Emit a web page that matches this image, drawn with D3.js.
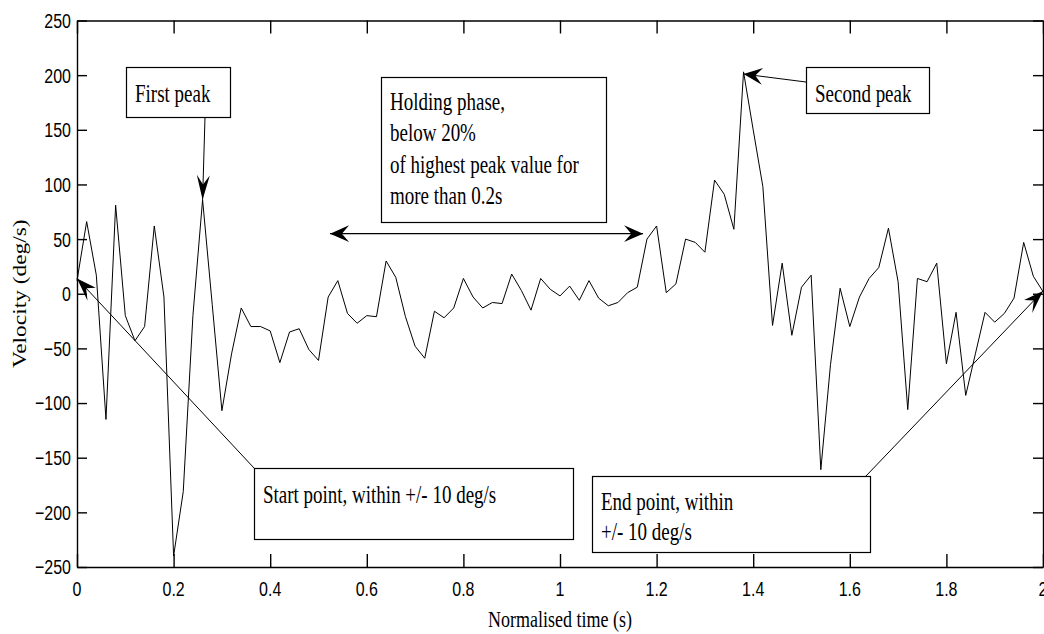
<!DOCTYPE html>
<html>
<head>
<meta charset="utf-8">
<script src="https://cdn.jsdelivr.net/npm/d3@7"></script>
<style>
body { margin: 0; background: #fff; }
svg { display: block; }
.axis path, .axis line { stroke: #000; stroke-width: 1.4; }
.tick-label { font-family: "Liberation Sans", Arial, sans-serif; font-size: 16px; fill: #000; }
.serif { font-family: "Liberation Serif", "Times New Roman", serif; font-size: 19px; fill: #000; }
.note-box { fill: #fff; stroke: #000; stroke-width: 1.2; }
.trace { fill: none; stroke: #000; stroke-width: 1; }
</style>
</head>
<body>
<div id="plot"></div>
<script>
// normalised time (s), one sample every 0.02 s
var times = [0, 0.02, 0.04, 0.06, 0.08, 0.1, 0.12, 0.14, 0.16, 0.18,
  0.2, 0.22, 0.24, 0.26, 0.28, 0.3, 0.32, 0.34, 0.36, 0.38,
  0.4, 0.42, 0.44, 0.46, 0.48, 0.5, 0.52, 0.54, 0.56, 0.58,
  0.6, 0.62, 0.64, 0.66, 0.68, 0.7, 0.72, 0.74, 0.76, 0.78,
  0.8, 0.82, 0.84, 0.86, 0.88, 0.9, 0.92, 0.94, 0.96, 0.98,
  1, 1.02, 1.04, 1.06, 1.08, 1.1, 1.12, 1.14, 1.16, 1.18,
  1.2, 1.22, 1.24, 1.26, 1.28, 1.3, 1.32, 1.34, 1.36, 1.38,
  1.4, 1.42, 1.44, 1.46, 1.48, 1.5, 1.52, 1.54, 1.56, 1.58,
  1.6, 1.62, 1.64, 1.66, 1.68, 1.7, 1.72, 1.74, 1.76, 1.78,
  1.8, 1.82, 1.84, 1.86, 1.88, 1.9, 1.92, 1.94, 1.96, 1.98, 2];

// velocity (deg/s)
var velocity = [12, 66, 17, -115, 81, -20, -43, -30, 62, -3,
  -240, -181, -20, 86, -10, -107, -55, -13, -30, -30,
  -34, -63, -35, -32, -51, -61, -3, 12, -18, -27,
  -20, -21, 30, 15, -21, -48, -59, -16, -22, -13,
  14, -3, -13, -8, -9, 18, 3, -15, 14, 4,
  -2, 7, -6, 12, -4, -11, -8, 1, 6, 50,
  62, 1, 9, 50, 47, 38, 104, 91, 59, 203,
  150, 98, -29, 28, -38, 6, 17, -161, -65, 5,
  -30, -3, 14, 24, 60, 11, -106, 14, 11, 28,
  -64, -17, -93, -55, -17, -26, -18, -4, 47, 16, 2];

var xTicks = [0, 0.2, 0.4, 0.6, 0.8, 1, 1.2, 1.4, 1.6, 1.8, 2];
var yTicks = [-250, -200, -150, -100, -50, 0, 50, 100, 150, 200, 250];

var xTitle = "Normalised time (s)";
var yTitle = "Velocity (deg/s)";

// annotations: box in pixels, arrow tip in data units
var notes = [
  {lines: ["First peak"], box: [126, 67, 104, 50], base: [102], from: [205, 117], tip: [0.26, 86]},
  {lines: ["Second peak"], box: [806, 67, 123, 46], base: [102], from: [806, 82], tip: [1.38, 201]},
  {lines: ["Holding phase,", "below 20%", "of highest peak value for", "more than 0.2s"],
   box: [381, 77, 225, 145], base: [110, 141, 173, 204]},
  {lines: ["Start point, within +/- 10 deg/s"], box: [254, 468, 319, 71], base: [503], from: [254, 468], tip: [0, 14]},
  {lines: ["End point, within", "+/- 10 deg/s"], box: [592, 476, 278, 76], base: [510, 540], from: [866, 476], tip: [2, 2.5]}
];
var holdSpan = {t0: 0.524, t1: 1.172, v: 55};

var W = 1044, H = 634;
var plotL = 77, plotR = 1043, plotT = 20.5, plotB = 567;
var SY = 1.3; // text in the figure is stretched vertically

var x = d3.scaleLinear().domain([0, 2]).range([plotL, plotR]);
var y = d3.scaleLinear().domain([-250, 250]).range([plotB, plotT]);

var svg = d3.select('#plot').append('svg')
  .attr('width', W)
  .attr('height', H);

function stretched(parent, px, py, str, cls, anchor) {
  return parent.append('text')
    .attr('class', cls)
    .attr('text-anchor', anchor || 'start')
    .attr('transform', 'translate(' + px + ',' + py + ') scale(1,' + SY + ')')
    .text(str);
}

// arrow head, concave back, drawn in unstretched frame then stretched
function head(parent, x1, y1, x2, y2) {
  var L = 19, Wd = 6.5;
  var dx = x2 - x1, dy = (y2 - y1) / SY;
  var a = Math.atan2(dy, dx) * 180 / Math.PI;
  parent.append('path')
    .attr('d', 'M0,0 L' + (-L) + ',' + (-Wd) + ' L' + (-0.62 * L) + ',0 L' + (-L) + ',' + Wd + 'Z')
    .attr('transform', 'translate(' + x2 + ',' + y2 + ') scale(1,' + SY + ') rotate(' + a + ')')
    .attr('fill', '#000');
}

function arrow(parent, x1, y1, x2, y2) {
  parent.append('line')
    .attr('x1', x1).attr('y1', y1)
    .attr('x2', x2).attr('y2', y2)
    .attr('stroke', '#000')
    .attr('stroke-width', 1);
  head(parent, x1, y1, x2, y2);
}

// frame + inward ticks on all four sides
svg.append('g').attr('class', 'axis')
  .attr('transform', 'translate(0,' + plotB + ')')
  .call(d3.axisBottom(x).tickValues(xTicks).tickSizeInner(-13).tickSizeOuter(0).tickFormat(''));
svg.append('g').attr('class', 'axis')
  .attr('transform', 'translate(0,' + plotT + ')')
  .call(d3.axisTop(x).tickValues(xTicks).tickSizeInner(-13).tickSizeOuter(0).tickFormat(''));
svg.append('g').attr('class', 'axis')
  .attr('transform', 'translate(' + plotL + ',0)')
  .call(d3.axisLeft(y).tickValues(yTicks).tickSizeInner(-10).tickSizeOuter(0).tickFormat(''));
svg.append('g').attr('class', 'axis')
  .attr('transform', 'translate(' + plotR + ',0)')
  .call(d3.axisRight(y).tickValues(yTicks).tickSizeInner(-10).tickSizeOuter(0).tickFormat(''));

var labels = svg.append('g');
var fmt = d3.format('');
xTicks.forEach(function(t) {
  stretched(labels, x(t), 596, fmt(t), 'tick-label', 'middle');
});
yTicks.forEach(function(v) {
  stretched(labels, 71, y(v) + 7.4, fmt(v), 'tick-label', 'end');
});

stretched(labels, (plotL + plotR) / 2, 627, xTitle, 'serif', 'middle').style('font-size', '18px');
labels.append('text')
  .attr('class', 'serif')
  .attr('text-anchor', 'middle')
  .style('font-size', '18px')
  .attr('transform', 'translate(26,' + ((plotT + plotB) / 2) + ') scale(1,' + SY + ') rotate(-90)')
  .text(yTitle);

// the trace
var data = times.map(function(t, i) { return {t: t, v: velocity[i]}; });
var line = d3.line()
  .x(function(d) { return x(d.t); })
  .y(function(d) { return y(d.v); });

svg.append('path')
  .datum(data)
  .attr('class', 'trace')
  .attr('d', line);

// annotations
var ann = svg.append('g');
notes.forEach(function(n) {
  var b = n.box;
  ann.append('rect')
    .attr('class', 'note-box')
    .attr('x', b[0] + 0.5).attr('y', b[1] + 0.5)
    .attr('width', b[2]).attr('height', b[3]);
  n.lines.forEach(function(s, i) {
    stretched(ann, b[0] + 9, n.base[i], s, 'serif');
  });
  if (n.tip) {
    arrow(ann, n.from[0], n.from[1], x(n.tip[0]), y(n.tip[1]));
  }
});

// double headed arrow for the holding phase
var hy = y(holdSpan.v);
ann.append('line')
  .attr('x1', x(holdSpan.t0)).attr('y1', hy)
  .attr('x2', x(holdSpan.t1)).attr('y2', hy)
  .attr('stroke', '#000')
  .attr('stroke-width', 1.3);
head(ann, x(holdSpan.t1), hy, x(holdSpan.t0), hy);
head(ann, x(holdSpan.t0), hy, x(holdSpan.t1), hy);
</script>
</body>
</html>
